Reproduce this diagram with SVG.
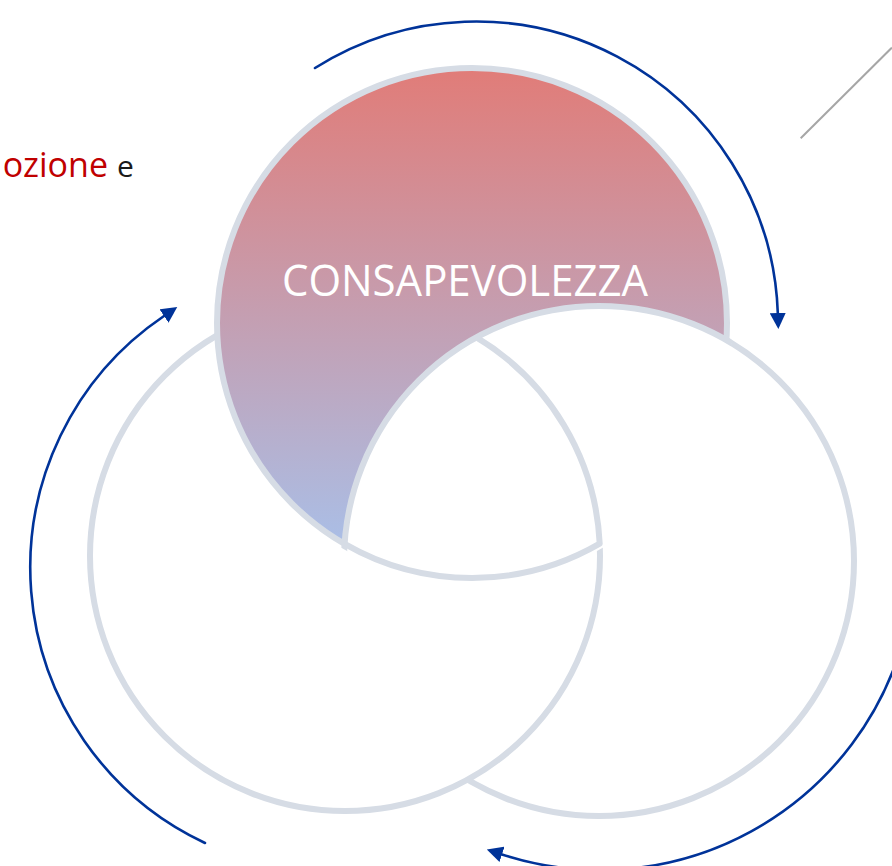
<svg xmlns="http://www.w3.org/2000/svg" width="892" height="866" viewBox="0 0 892 866">
  <style>
    .ring { stroke: #d6dce5; stroke-width: 6; }
    .arrow { fill: none; stroke: #003399; stroke-width: 2.6; stroke-linecap: round; }
    .label { font-family: "Open Sans", "Liberation Sans", sans-serif; }
  </style>
  <defs>
    <linearGradient id="topGrad" gradientUnits="userSpaceOnUse" x1="0" y1="68" x2="0" y2="578">
      <stop offset="0" stop-color="#e17c78"/>
      <stop offset="1" stop-color="#a6c3ee"/>
    </linearGradient>
    <clipPath id="topClip">
      <circle cx="472" cy="323" r="260"/>
    </clipPath>
    <marker id="ah" markerUnits="userSpaceOnUse" markerWidth="16" markerHeight="16" viewBox="0 -8 16 16" refX="0" refY="0" orient="auto">
      <path d="M0,-8 L16,0 L0,8 Z" fill="#003399"/>
    </marker>
  </defs>

  <rect width="892" height="866" fill="#ffffff"/>

  <g id="side-text">
    <text class="label" x="108" y="177" font-size="34" fill="#c00000" text-anchor="end">ozione</text>
    <text class="label" x="117" y="177" font-size="30" fill="#1a1a1a">e</text>
    <line x1="800.7" y1="138.3" x2="892" y2="47.5" stroke="#a6a6a6" stroke-width="2"/>
  </g>

  <g id="circle-right">
    <circle class="ring" cx="599" cy="561" r="255" fill="#ffffff"/>
  </g>

  <g id="circle-left">
    <circle class="ring" cx="345" cy="556" r="255" fill="#ffffff"/>
  </g>

  <g id="circle-top">
    <circle class="ring" cx="472" cy="323" r="255" fill="url(#topGrad)"/>
    <text class="label" x="465" y="296" font-size="43" fill="#ffffff" text-anchor="middle" textLength="366" lengthAdjust="spacingAndGlyphs">CONSAPEVOLEZZA</text>
  </g>

  <g id="overlap">
    <circle class="ring" cx="599" cy="561" r="255" fill="#ffffff" clip-path="url(#topClip)"/>
    <path class="ring" fill="none" stroke-linejoin="round" d="M476.4,337.4 A255,255 0 0 1 599.7,543.7 A255,255 0 0 1 344.6,543.9"/>
  </g>

  <g id="connectors">
    <path class="arrow" d="M315,68 A302,302 0 0 1 777.8,313" marker-end="url(#ah)"/>
    <path class="arrow" d="M205,843 A304,304 0 0 1 164,316" marker-end="url(#ah)"/>
    <path class="arrow" d="M905,633.7 A315,315 0 0 1 502,854.4" marker-end="url(#ah)"/>
  </g>
</svg>
